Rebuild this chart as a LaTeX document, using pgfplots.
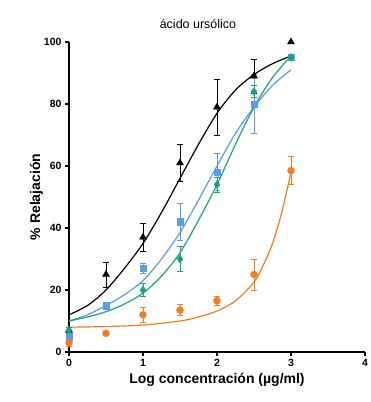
\documentclass[border=0pt]{standalone}
\usepackage{pgfplots}
\pgfplotsset{compat=1.18}
\usepackage{fontspec}
\setmainfont{Liberation Sans}
\definecolor{cblue}{HTML}{5B9BEA}
\definecolor{cgreen}{HTML}{1AA37E}
\definecolor{corange}{HTML}{F47B20}
\begin{document}
\begin{tikzpicture}
\path[use as bounding box] (-69pt,-50pt) rectangle (301pt,352pt);
\begin{axis}[
  at={(0,0)}, anchor=south west,
  scale only axis, width=296pt, height=310pt,
  xmin=0, xmax=4, ymin=0, ymax=100,
  axis x line*=bottom, axis y line*=left,
  axis line style={line width=1.6pt},
  xtick={0,1,2,3,4}, ytick={0,20,40,60,80,100},
  tick align=outside, major tick length=4pt,
  tick style={line width=1.3pt, black},
  /pgf/number format/assume math mode=true,
  ticklabel style={font=\bfseries\fontsize{10.5}{12}\selectfont},
  xlabel={\bfseries Log concentración (µg/ml)},
  ylabel={\bfseries \% Relajación},
  xlabel style={font=\fontsize{14}{16}\selectfont, yshift=1pt},
  ylabel style={font=\fontsize{14}{16}\selectfont, yshift=-6pt},
  title={ácido ursólico},
  title style={font=\fontsize{12.5}{14}\selectfont, yshift=4pt, xshift=-19pt},
  clip=false,
  error bars/error bar style={line width=0.6pt},
  error bars/error mark options={rotate=90, mark size=3pt, line width=0.6pt},
]
% fitted curves
\addplot[black, line width=1.2pt, smooth] coordinates {
(0,12) (0.25,15) (0.5,20) (0.75,27) (1,35) (1.25,45) (1.5,56) (1.75,67) (2,77) (2.25,84.5) (2.5,89.5) (2.75,93) (3,95.5)};
\addplot[cblue, line width=1.2pt, smooth] coordinates {
(0,10) (0.25,12) (0.5,15) (0.75,18.5) (1,23) (1.25,30) (1.5,38.5) (1.75,49) (2,60) (2.25,70.5) (2.5,79) (2.75,86) (3,91)};
\addplot[cgreen, line width=1.2pt, smooth] coordinates {
(0,10) (0.25,11.3) (0.5,13) (0.75,15.5) (1,19) (1.25,24.5) (1.5,32) (1.75,42.5) (2,54) (2.25,67) (2.5,79) (2.75,88.5) (3,95.5)};
\addplot[corange, line width=1.2pt, smooth] coordinates {
(0,8) (0.5,8.2) (1,8.7) (1.5,10) (1.75,11.3) (2,13.2) (2.25,16.5) (2.5,22.5) (2.625,28) (2.75,35) (2.875,45) (3,58)};
% data
\addplot[black, only marks, mark=triangle*, mark size=4pt,
  error bars/.cd, y dir=both, y explicit, error bar style={black}]
  coordinates {
  (0,7) +- (0,0)
  (0.5,25) +- (0,4)
  (1,37) +- (0,4.5)
  (1.5,61) +- (0,6)
  (2,79) +- (0,9)
  (2.5,89) +- (0,5.5)
  (3,100) +- (0,0)};
\addplot[cblue, only marks, mark=square*, mark size=3.2pt,
  error bars/.cd, y dir=both, y explicit, error bar style={cblue}]
  coordinates {
  (0,5) +- (0,1)
  (0.5,15) +- (0,1)
  (1,27) +- (0,1.5)
  (1.5,42) +- (0,6)
  (2,58) +- (0,6)
  (2.5,80) +- (0,9.5)
  (3,95) +- (0,1)};
\addplot[cgreen, only marks, mark=diamond*, mark size=4pt,
  error bars/.cd, y dir=both, y explicit, error bar style={cgreen}]
  coordinates {
  (0,7) +- (0,1)
  (1,20) +- (0,2)
  (1.5,30) +- (0,4)
  (2,54) +- (0,2.5)
  (2.5,84) +- (0,2)
  (3,95) +- (0,1)};
\addplot[corange, only marks, mark=*, mark size=3.5pt,
  error bars/.cd, y dir=both, y explicit, error bar style={corange}]
  coordinates {
  (0,3) +- (0,1)
  (0.5,6) +- (0,0.5)
  (1,12) +- (0,2.5)
  (1.5,13.5) +- (0,1.8)
  (2,16.5) +- (0,1.5)
  (2.5,25) +- (0,5)
  (3,58.5) +- (0,4.5)};
\end{axis}
\end{tikzpicture}
\end{document}
